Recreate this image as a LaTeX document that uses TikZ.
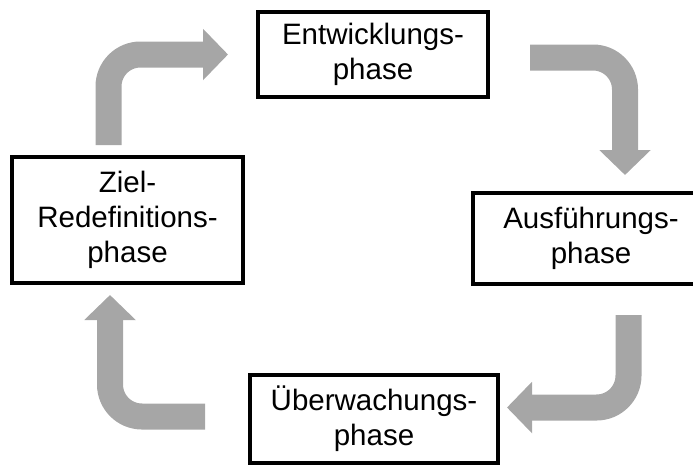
\documentclass[tikz,border=0pt]{standalone}
\usepackage{fontspec}
\setmainfont{Liberation Sans}
\usetikzlibrary{arrows.meta,calc}

\definecolor{pfeilgrau}{HTML}{A6A6A6}

\tikzset{
    phase/.style={draw, line width=4pt, fill=white, align=center, inner sep=0pt,
        outer sep=0pt, font=\fontsize{29.5}{35}\selectfont},
    kreispfeil/.style={draw=pfeilgrau, line width=26pt, rounded corners=32pt,
        -{Triangle[width=50pt,length=25pt]}}
}

\begin{document}
\begin{tikzpicture}[x=1pt, y=-1pt]
        \useasboundingbox (0, 0) rectangle (693, 464);

        \node[phase, minimum width=230pt, minimum height=85pt] (entw) at (373, 54.5) {Entwicklungs-\\phase};
        \node[phase, minimum width=236pt, minimum height=91pt] (ausf) at (591, 238.5) {Ausführungs-\\phase};
        \node[phase, minimum width=248pt, minimum height=88pt] (ueber) at (374, 419) {Überwachungs-\\phase};
        \node[phase, minimum width=231pt, minimum height=126pt] (ziel) at (127.5, 220) {Ziel-\\Redefinitions-\\phase};

        % Kreislauf
        \draw[kreispfeil] ($(ziel.north)+(-19,-12)$) |- ($(entw.west)+(-30,0)$);
        \draw[kreispfeil] ($(entw.east)+(42,3)$) -| ($(ausf.north)+(34,-18)$);
        \draw[kreispfeil] ($(ausf.south)+(37.5,31)$) |- ($(ueber.east)+(9,-11.5)$);
        \draw[kreispfeil] ($(ueber.west)+(-45,-2.5)$) -| ($(ziel.south)+(-17.5,12)$);
    \end{tikzpicture}
\end{document}
